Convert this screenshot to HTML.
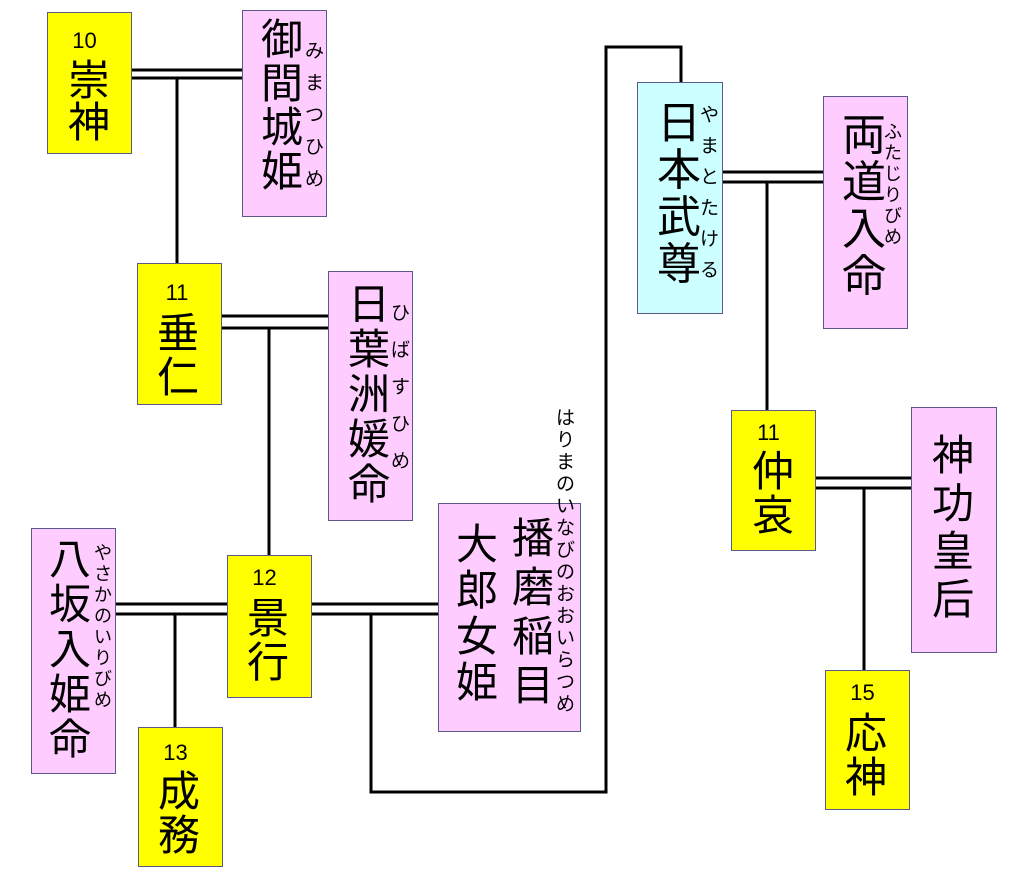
<!DOCTYPE html>
<html><head><meta charset="utf-8"><style>
body{margin:0;width:1024px;height:879px;background:#fff;position:relative;overflow:hidden;font-family:"Liberation Sans","Noto Sans CJK JP",sans-serif}
.b{position:absolute;border:1px solid #5a5a8a;box-sizing:border-box}
.y{background:#ffff00}.p{background:#ffccff}.c{background:#ccffff}
.t{position:absolute;text-align:center;color:#000;white-space:nowrap}
.n{position:absolute;font-size:22px;text-align:center;font-family:"Liberation Sans",sans-serif}
svg{position:absolute;left:0;top:0}
</style></head><body>
<svg width="1024" height="879"><g stroke="#000" stroke-width="3" fill="none">
<line x1="131" y1="70" x2="242" y2="70"/><line x1="131" y1="78" x2="242" y2="78"/><line x1="177" y1="78" x2="177" y2="263"/>
<line x1="221" y1="316" x2="328" y2="316"/><line x1="221" y1="328" x2="328" y2="328"/><line x1="269" y1="328" x2="269" y2="555"/>
<line x1="115" y1="604" x2="227" y2="604"/><line x1="115" y1="614" x2="227" y2="614"/><line x1="175" y1="614" x2="175" y2="727"/>
<line x1="311" y1="604" x2="438" y2="604"/><line x1="311" y1="614" x2="438" y2="614"/>
<polyline points="371,614 371,792 606,792 606,47 681,47 681,82"/>
<line x1="722" y1="172" x2="823" y2="172"/><line x1="722" y1="182" x2="823" y2="182"/><line x1="767" y1="182" x2="767" y2="410"/>
<line x1="815" y1="478" x2="911" y2="478"/><line x1="815" y1="488" x2="911" y2="488"/><line x1="864" y1="488" x2="864" y2="670"/>
</g></svg>

<div class="b y" style="left:47px;top:12px;width:85px;height:142px"></div>
<div class="n" style="left:47px;top:28px;width:75px">10</div>
<div class="t" style="left:68px;top:60px;font-size:42px;line-height:42px">崇<br>神</div>

<div class="b p" style="left:242px;top:10px;width:85px;height:207px"></div>
<div class="t" style="left:261px;top:18px;font-size:42px;line-height:44px">御<br>間<br>城<br>姫</div>
<div class="t" style="left:305px;top:36px;font-size:19px;line-height:32px">み<br>ま<br>つ<br>ひ<br>め</div>

<div class="b y" style="left:137px;top:263px;width:85px;height:142px"></div>
<div class="n" style="left:137px;top:280px;width:80px">11</div>
<div class="t" style="left:157px;top:312px;font-size:42px;line-height:44px">垂<br>仁</div>

<div class="b p" style="left:328px;top:271px;width:85px;height:250px"></div>
<div class="t" style="left:348px;top:282px;font-size:42px;line-height:45px">日<br>葉<br>洲<br>媛<br>命</div>
<div class="t" style="left:391px;top:295px;font-size:19px;line-height:37px">ひ<br>ば<br>す<br>ひ<br>め</div>

<div class="b y" style="left:227px;top:555px;width:85px;height:143px"></div>
<div class="n" style="left:227px;top:565px;width:75px">12</div>
<div class="t" style="left:247px;top:597px;font-size:42px;line-height:44px">景<br>行</div>

<div class="b p" style="left:31px;top:528px;width:85px;height:246px"></div>
<div class="t" style="left:49px;top:537px;font-size:42px;line-height:45px">八<br>坂<br>入<br>姫<br>命</div>
<div class="t" style="left:94px;top:543px;font-size:18px;line-height:21px">や<br>さ<br>か<br>の<br>い<br>り<br>び<br>め</div>

<div class="b y" style="left:138px;top:727px;width:85px;height:140px"></div>
<div class="n" style="left:138px;top:740px;width:75px">13</div>
<div class="t" style="left:158px;top:770px;font-size:42px;line-height:44px">成<br>務</div>

<div class="b p" style="left:438px;top:503px;width:143px;height:229px"></div>
<div class="t" style="left:456px;top:522px;font-size:42px;line-height:46px">大<br>郎<br>女<br>姫</div>
<div class="t" style="left:512px;top:514px;font-size:42px;line-height:49px">播<br>磨<br>稲<br>目</div>
<div class="t" style="left:556px;top:408px;font-size:19px;line-height:22px">は<br>り<br>ま<br>の<br>い<br>な<br>び<br>の<br>お<br>お<br>い<br>ら<br>つ<br>め</div>

<div class="b c" style="left:637px;top:82px;width:86px;height:232px"></div>
<div class="t" style="left:657px;top:100px;font-size:44px;line-height:47px">日<br>本<br>武<br>尊</div>
<div class="t" style="left:700px;top:100px;font-size:19px;line-height:31px">や<br>ま<br>と<br>た<br>け<br>る</div>

<div class="b p" style="left:823px;top:96px;width:85px;height:233px"></div>
<div class="t" style="left:842px;top:112px;font-size:44px;line-height:47px">両<br>道<br>入<br>命</div>
<div class="t" style="left:884px;top:122px;font-size:18px;line-height:21px">ふ<br>た<br>じ<br>り<br>び<br>め</div>

<div class="b y" style="left:731px;top:410px;width:85px;height:141px"></div>
<div class="n" style="left:731px;top:420px;width:75px">11</div>
<div class="t" style="left:752px;top:450px;font-size:42px;line-height:44px">仲<br>哀</div>

<div class="b p" style="left:911px;top:407px;width:86px;height:246px"></div>
<div class="t" style="left:932px;top:432px;font-size:42px;line-height:48px">神<br>功<br>皇<br>后</div>

<div class="b y" style="left:825px;top:670px;width:85px;height:140px"></div>
<div class="n" style="left:825px;top:680px;width:75px">15</div>
<div class="t" style="left:845px;top:712px;font-size:42px;line-height:44px">応<br>神</div>
</body></html>
